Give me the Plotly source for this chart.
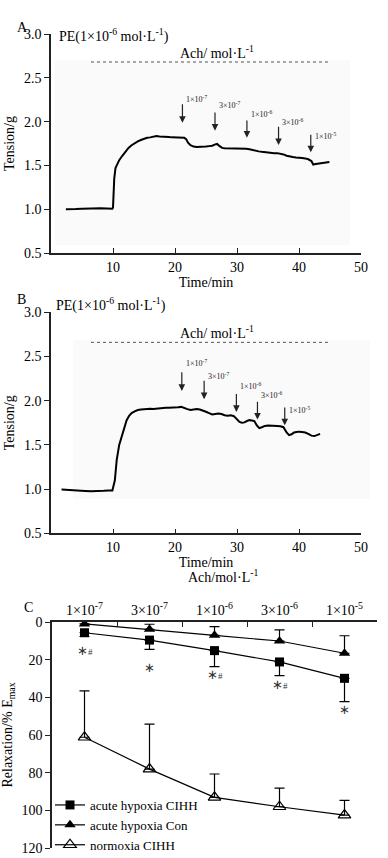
import plotly.graph_objects as go

# ---------------- Data ----------------
# Panel A tension trace (Time/min, Tension/g)
time_a = [2.4, 3, 4, 5, 6, 7, 8, 9, 9.9, 10.0, 10.2, 10.4, 10.7, 11.0, 11.5, 12.0, 12.5, 13.0, 13.5,
          14.0, 14.5, 15.0, 15.5, 16.0, 16.5, 17.0, 17.5, 18.0, 18.5, 19.0, 19.5, 20.0, 20.5, 21.0,
          21.5, 21.8, 22.1, 22.5, 23.0, 23.5, 24.0, 24.5, 25.0, 25.5, 26.0, 26.5, 26.8, 27.2, 27.6,
          28.0, 28.5, 29.0, 29.5, 30.0, 30.5, 31.0, 31.5, 32.0, 32.5, 33.0, 33.5, 34.0, 34.5, 35.0,
          35.5, 36.0, 36.5, 37.0, 37.5, 38.0, 38.5, 39.0, 39.5, 40.0, 40.5, 41.0, 41.5, 42.0, 42.3,
          42.7, 43.1, 43.5, 44.0, 44.4, 44.9]
tension_a = [1.0, 0.998, 1.002, 1.005, 1.008, 1.01, 1.012, 1.008, 1.005, 1.02, 1.35, 1.47, 1.52, 1.56,
             1.61, 1.66, 1.70, 1.73, 1.755, 1.775, 1.79, 1.805, 1.815, 1.82, 1.825, 1.835, 1.83, 1.83,
             1.825, 1.825, 1.82, 1.82, 1.815, 1.82, 1.815, 1.80, 1.76, 1.73, 1.715, 1.71, 1.71, 1.715,
             1.715, 1.72, 1.725, 1.74, 1.745, 1.72, 1.70, 1.695, 1.695, 1.69, 1.695, 1.695, 1.695, 1.69,
             1.69, 1.685, 1.675, 1.665, 1.66, 1.655, 1.65, 1.645, 1.645, 1.64, 1.64, 1.635, 1.625,
             1.61, 1.60, 1.595, 1.59, 1.59, 1.585, 1.58, 1.57, 1.55, 1.51, 1.515, 1.52, 1.525, 1.53,
             1.535, 1.54]

# Panel B tension trace
time_b = [1.7, 2.5, 3.5, 4.5, 5.5, 6.5, 7.5, 8.5, 9.3, 9.9, 10.3, 10.6, 11.0, 11.4, 11.8, 12.2, 12.6,
          13.0, 13.5, 14.0, 14.5, 15.0, 15.5, 16.0, 16.5, 17.0, 17.5, 18.0, 18.5, 19.0, 19.5, 20.0,
          20.5, 21.0, 21.5, 22.0, 22.5, 23.0, 23.5, 24.0, 24.5, 25.0, 25.5, 26.0, 26.5, 27.0, 27.5,
          28.0, 28.5, 29.0, 29.5, 30.0, 30.4, 30.8, 31.2, 31.6, 32.0, 32.4, 32.8, 33.2, 33.6, 34.0,
          34.5, 35.0, 35.5, 36.0, 36.5, 37.0, 37.5, 38.0, 38.4, 38.8, 39.2, 39.6, 40.0, 40.5, 41.0,
          41.5, 42.0, 42.5, 43.0, 43.4]
tension_b = [0.995, 0.99, 0.985, 0.98, 0.978, 0.975, 0.975, 0.98, 0.985, 0.985, 1.10, 1.33, 1.50, 1.60,
             1.70, 1.78, 1.83, 1.86, 1.88, 1.895, 1.90, 1.905, 1.905, 1.91, 1.905, 1.91, 1.915, 1.915,
             1.92, 1.92, 1.92, 1.925, 1.925, 1.93, 1.915, 1.905, 1.895, 1.90, 1.905, 1.90, 1.89, 1.875,
             1.86, 1.845, 1.85, 1.855, 1.85, 1.835, 1.83, 1.835, 1.825, 1.79, 1.76, 1.75, 1.755, 1.77,
             1.78, 1.775, 1.77, 1.72, 1.69, 1.70, 1.715, 1.72, 1.72, 1.72, 1.715, 1.71, 1.70, 1.64,
             1.61, 1.62, 1.64, 1.645, 1.65, 1.645, 1.64, 1.625, 1.605, 1.60, 1.61, 1.625]

# Ach dosing (arrows) : time, arrow top, arrow bottom, label y
ach_labels = ["1×10<sup>-7</sup>", "3×10<sup>-7</sup>", "1×10<sup>-6</sup>", "3×10<sup>-6</sup>", "1×10<sup>-5</sup>"]
arrow_t_a = [21.2, 26.45, 31.6, 36.7, 41.9]
arrow_top_a = [2.216, 2.121, 2.03, 1.958, 1.867]
arrow_bot_a = [1.987, 1.896, 1.816, 1.733, 1.65]
label_y_a = [2.258, 2.19, 2.087, 1.99, 1.84]

arrow_t_b = [21.1, 24.7, 29.9, 33.3, 37.7]
arrow_top_b = [2.338, 2.244, 2.093, 2.006, 1.941]
arrow_bot_b = [2.111, 2.017, 1.873, 1.787, 1.722]
label_y_b = [2.425, 2.28, 2.17, 2.06, 1.90]

# Ach application period (dotted line)
ach_span_t = [6.45, 44.8]
ach_level_a = 2.68
ach_level_b = 2.66

# Panel C: relaxation (% Emax) vs Ach concentration
conc_labels = ["1×10<sup>-7</sup>", "3×10<sup>-7</sup>", "1×10<sup>-6</sup>", "3×10<sup>-6</sup>", "1×10<sup>-5</sup>"]
acute_cihh = [5.7, 9.6, 15.2, 21.2, 29.9]
acute_cihh_err = [2.0, 4.9, 8.5, 7.3, 12.4]
acute_con = [1.0, 3.9, 7.1, 10.1, 16.6]
acute_con_err = [2.3, 2.7, 4.6, 5.9, 9.3]
normoxia_cihh = [61.2, 78.1, 93.1, 98.1, 102.5]
normoxia_cihh_err = [24.6, 23.9, 12.4, 9.9, 7.8]
sig_text = ["∗<span style='font-size:9px'>#</span>", "∗", "∗<span style='font-size:9px'>#</span>",
            "∗<span style='font-size:9px'>#</span>", "∗"]
sig_y = [15.2, 24.1, 27.8, 33.1, 46.7]

# ---------------- Figure ----------------
W, H = 388, 858
FONT = "Liberation Serif, Times New Roman, serif"
AXC = "#222222"

def py(p):
    return 1 - p / H

def px(p):
    return p / W

fig = go.Figure()

fig.add_trace(go.Scatter(x=time_a, y=tension_a, mode="lines", line=dict(color="black", width=2),
                         xaxis="x", yaxis="y", showlegend=False, hoverinfo="skip"))
fig.add_trace(go.Scatter(x=ach_span_t, y=[ach_level_a] * 2, mode="lines",
                         line=dict(color="#555", width=1, dash="dot"),
                         xaxis="x", yaxis="y", showlegend=False, hoverinfo="skip"))
fig.add_trace(go.Scatter(x=time_b, y=tension_b, mode="lines", line=dict(color="black", width=2),
                         xaxis="x2", yaxis="y2", showlegend=False, hoverinfo="skip"))
fig.add_trace(go.Scatter(x=ach_span_t, y=[ach_level_b] * 2, mode="lines",
                         line=dict(color="#555", width=1, dash="dot"),
                         xaxis="x2", yaxis="y2", showlegend=False, hoverinfo="skip"))

fig.add_trace(go.Scatter(
    x=conc_labels, y=acute_cihh, mode="lines+markers", name="acute hypoxia CIHH",
    line=dict(color="black", width=1.2), marker=dict(symbol="square", size=9, color="black"),
    error_y=dict(type="data", symmetric=False, array=acute_cihh_err, arrayminus=[0] * 5,
                 color="black", thickness=1.2, width=5),
    xaxis="x3", yaxis="y3"))
fig.add_trace(go.Scatter(
    x=conc_labels, y=acute_con, mode="lines+markers", name="acute hypoxia Con",
    line=dict(color="black", width=1.2), marker=dict(symbol="triangle-up", size=10, color="black"),
    error_y=dict(type="data", symmetric=False, array=[0] * 5, arrayminus=acute_con_err,
                 color="black", thickness=1.2, width=5),
    xaxis="x3", yaxis="y3"))
fig.add_trace(go.Scatter(
    x=conc_labels, y=normoxia_cihh, mode="lines+markers", name="normoxia CIHH",
    line=dict(color="black", width=1.2),
    marker=dict(symbol="triangle-up-open", size=11, color="black", line=dict(width=1.2)),
    error_y=dict(type="data", symmetric=False, array=[0] * 5, arrayminus=normoxia_cihh_err,
                 color="black", thickness=1.2, width=5),
    xaxis="x3", yaxis="y3"))

annotations = []
for xr, yr, ts, tops, bots, lys in [("x", "y", arrow_t_a, arrow_top_a, arrow_bot_a, label_y_a),
                                     ("x2", "y2", arrow_t_b, arrow_top_b, arrow_bot_b, label_y_b)]:
    for t, top, bot, ly, lab in zip(ts, tops, bots, lys, ach_labels):
        annotations.append(dict(x=t, y=bot, ax=t, ay=top, xref=xr, yref=yr, axref=xr, ayref=yr,
                                text="", showarrow=True, arrowhead=2, arrowsize=1.1, arrowwidth=1.2,
                                arrowcolor="#222"))
        annotations.append(dict(x=t + 0.3, y=ly, xref=xr, yref=yr, text=lab, showarrow=False,
                                xanchor="left", yanchor="middle", font=dict(size=8, family=FONT, color="#222")))
    annotations.append(dict(x=26.8, y=2.79 if xr == "x" else 2.78, xref=xr, yref=yr,
                            text="Ach/ mol·L<sup>-1</sup>", showarrow=False, font=dict(size=14, family=FONT)))

for i, (s, yv) in enumerate(zip(sig_text, sig_y)):
    annotations.append(dict(x=conc_labels[i], y=yv, xref="x3", yref="y3", text=s, showarrow=False,
                            font=dict(size=13, family=FONT, color="#333")))

# panel letters and headers
annotations += [
    dict(x=px(15), y=py(18), xref="paper", yref="paper", text="A", showarrow=False, font=dict(size=14)),
    dict(x=px(57), y=py(24), xref="paper", yref="paper", xanchor="left",
         text="PE(1×10<sup>-6</sup> mol·L<sup>-1</sup>)", showarrow=False, font=dict(size=14)),
    dict(x=px(15), y=py(300), xref="paper", yref="paper", text="B", showarrow=False, font=dict(size=14)),
    dict(x=px(54), y=py(304), xref="paper", yref="paper", xanchor="left",
         text="PE(1×10<sup>-6</sup> mol·L<sup>-1</sup>)", showarrow=False, font=dict(size=14)),
    dict(x=px(22), y=py(617), xref="paper", yref="paper", text="C", showarrow=False, font=dict(size=14)),
    dict(x=px(223), y=py(587), xref="paper", yref="paper", text="Ach/mol·L<sup>-1</sup>",
         showarrow=False, font=dict(size=14)),
]

yticks_ab = [0.5, 1.0, 1.5, 2.0, 2.5, 3.0]
common_y = dict(range=[0.5, 3.0], tickvals=yticks_ab, tickformat=".1f", ticks="outside", ticklen=5,
                showline=True, linecolor=AXC, linewidth=1.5, tickcolor=AXC, showgrid=False,
                zeroline=False, tickfont=dict(size=14), automargin=False,
                title=dict(text="Tension/g", font=dict(size=14), standoff=6))
common_x = dict(range=[0, 50], tickvals=[10, 20, 30, 40, 50], ticks="inside", ticklen=5,
                showline=True, linecolor=AXC, linewidth=1.5, tickcolor=AXC, showgrid=False,
                zeroline=False, tickfont=dict(size=14), automargin=False,
                title=dict(text="Time/min", font=dict(size=14), standoff=2))

shapes = [
    dict(type="rect", xref="paper", yref="paper", x0=px(55), x1=px(350), y0=py(245), y1=py(60),
         fillcolor="#fafafa", line=dict(width=0), layer="below"),
    dict(type="rect", xref="paper", yref="paper", x0=px(73), x1=px(370), y0=py(499), y1=py(340),
         fillcolor="#fafafa", line=dict(width=0), layer="below"),
]

fig.update_layout(
    width=W, height=H, margin=dict(l=0, r=0, t=0, b=0, autoexpand=False),
    paper_bgcolor="white", plot_bgcolor="rgba(0,0,0,0)",
    font=dict(family=FONT, size=14, color="black"),
    xaxis=dict(domain=[px(51), px(361)], anchor="y", **common_x),
    yaxis=dict(domain=[py(253), py(34)], anchor="x", **common_y),
    xaxis2=dict(domain=[px(51), px(361)], anchor="y2", **common_x),
    yaxis2=dict(domain=[py(533.3), py(312.3)], anchor="x2", **common_y),
    xaxis3=dict(domain=[px(52), px(377)], anchor="y3", type="category", side="top",
                tickson="boundaries", ticks="inside", ticklen=5, range=[-0.5, 4.5],
                showline=True, linecolor=AXC, linewidth=1.5, tickcolor=AXC, showgrid=False,
                tickfont=dict(size=14), automargin=False),
    yaxis3=dict(domain=[py(848), py(622)], anchor="x3", range=[120, 0],
                tickvals=[0, 20, 40, 60, 80, 100, 120], ticks="outside", ticklen=5,
                showline=True, linecolor=AXC, linewidth=1.5, tickcolor=AXC, showgrid=False,
                zeroline=False, tickfont=dict(size=14), automargin=False,
                title=dict(text="Relaxation/% E<sub>max</sub>", font=dict(size=14), standoff=6)),
    legend=dict(x=px(50), y=py(790), xanchor="left", yanchor="top", bgcolor="rgba(0,0,0,0)",
                font=dict(size=13, family=FONT), itemwidth=30, tracegroupgap=0),
    annotations=annotations,
    shapes=shapes,
)

fig.write_html("out.html", config={"displayModeBar": False},
               post_script="document.body.style.margin='0px';document.body.style.overflow='hidden';")
